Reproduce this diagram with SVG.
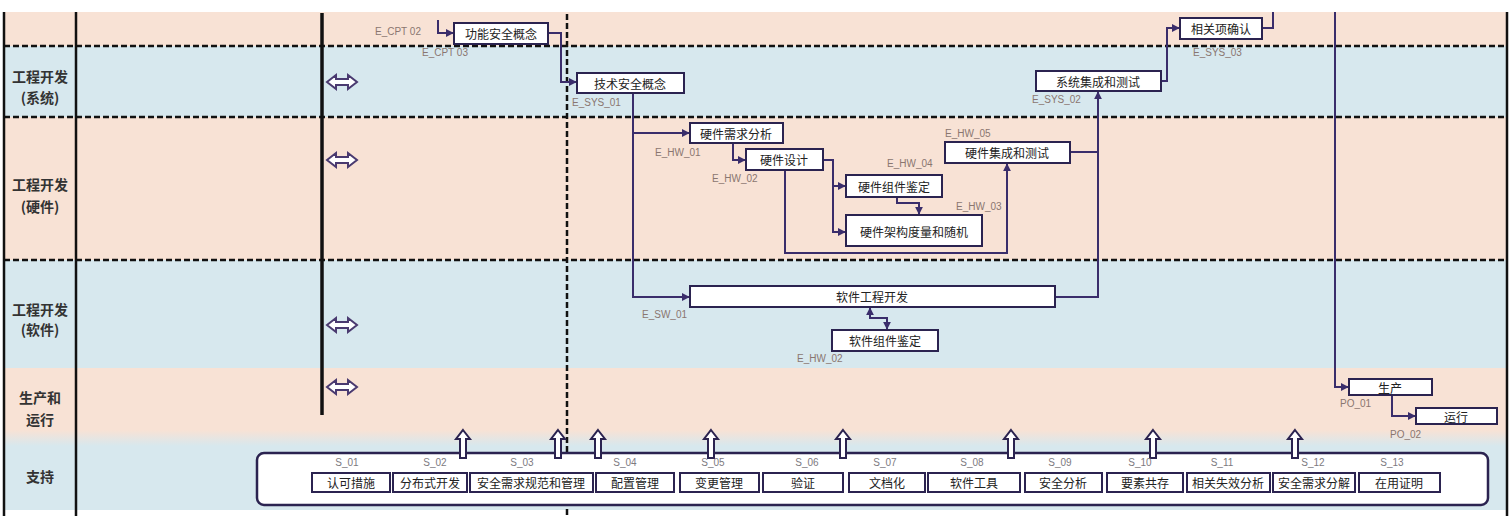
<svg xmlns="http://www.w3.org/2000/svg" width="1512" height="516" viewBox="0 0 1512 516">
<defs>
<style>
.peach{fill:#f8e2d5}
.blue{fill:#d7e8ee}
.border{stroke:#111;stroke-width:2.5;fill:none}
.dash{stroke:#111;stroke-width:2.5;stroke-dasharray:6 3;fill:none}
.box{fill:#fff;stroke:#2b2350;stroke-width:2}
.nt{font-family:"Noto Sans CJK SC","Noto Sans",sans-serif;font-size:12px;fill:#222;text-anchor:middle;dominant-baseline:central}
.lane{font-family:"Noto Sans CJK SC","Noto Sans",sans-serif;font-size:14px;font-weight:bold;fill:#333;text-anchor:middle}
.lbl{font-family:"Liberation Sans","Noto Sans",sans-serif;font-size:10px;fill:#8a7670}
.slbl{font-family:"Liberation Sans","Noto Sans",sans-serif;font-size:10px;fill:#7d7a80;text-anchor:middle}
.con{fill:none;stroke:#3a2d6b;stroke-width:2}
.dbl{fill:#fff;stroke:#4a3a70;stroke-width:2}
.up{fill:#fff;stroke:#2b2350;stroke-width:2}
</style>
<marker id="ah" viewBox="0 0 10 10" refX="9" refY="5" markerWidth="4" markerHeight="4" orient="auto-start-reverse">
<path d="M0,0 L10,5 L0,10 Z" fill="#3a2d6b"/>
</marker>
<linearGradient id="fade" x1="0" y1="0" x2="0" y2="1">
<stop offset="0" stop-color="#f8e2d5"/>
<stop offset="1" stop-color="#d7e8ee"/>
</linearGradient>
</defs>
<rect width="1512" height="516" fill="#ffffff"/>
<g id="lanes">
<rect class="peach" x="4" y="12" width="1503" height="34"/>
<rect class="blue" x="4" y="46" width="1503" height="71"/>
<rect class="peach" x="4" y="117" width="1503" height="143"/>
<rect class="blue" x="4" y="260" width="1503" height="108"/>
<rect class="peach" x="4" y="368" width="1503" height="62"/>
<rect x="4" y="430" width="1503" height="16" fill="url(#fade)"/>
<rect class="blue" x="4" y="446" width="1503" height="64"/>
<line class="dash" x1="4" y1="46" x2="1507" y2="46"/>
<line class="dash" x1="4" y1="117" x2="1507" y2="117"/>
<line class="dash" x1="4" y1="260" x2="1507" y2="260"/>
<line class="border" x1="4" y1="12" x2="4" y2="516"/>
<line class="border" x1="76" y1="12" x2="76" y2="516"/>
<line class="border" x1="1507" y1="12" x2="1507" y2="516"/>
<line x1="322" y1="13" x2="322" y2="415" stroke="#111" stroke-width="3.5"/>
<line class="dash" x1="567" y1="14" x2="567" y2="516"/>
<text class="lane" x="40" y="82">工程开发</text>
<text class="lane" x="40" y="103">(系统)</text>
<text class="lane" x="40" y="190">工程开发</text>
<text class="lane" x="40" y="212">(硬件)</text>
<text class="lane" x="40" y="315">工程开发</text>
<text class="lane" x="40" y="335">(软件)</text>
<text class="lane" x="40" y="403">生产和</text>
<text class="lane" x="40" y="425">运行</text>
<text class="lane" x="40" y="482">支持</text>
<path class="dbl" transform="translate(327,82)" d="M0,0 L9,-7 L9,-3 L21,-3 L21,-7 L30,0 L21,7 L21,3 L9,3 L9,7 Z"/>
<path class="dbl" transform="translate(327,160)" d="M0,0 L9,-7 L9,-3 L21,-3 L21,-7 L30,0 L21,7 L21,3 L9,3 L9,7 Z"/>
<path class="dbl" transform="translate(327,325)" d="M0,0 L9,-7 L9,-3 L21,-3 L21,-7 L30,0 L21,7 L21,3 L9,3 L9,7 Z"/>
<path class="dbl" transform="translate(327,387)" d="M0,0 L9,-7 L9,-3 L21,-3 L21,-7 L30,0 L21,7 L21,3 L9,3 L9,7 Z"/>
</g>
<g id="connectors">
<path class="con" d="M438,20 V33 H453" marker-end="url(#ah)"/>
<path class="con" d="M548,33 H561 V82 H576" marker-end="url(#ah)"/>
<path class="con" d="M633,93 V297 H689" marker-end="url(#ah)"/>
<path class="con" d="M633,133 H689" marker-end="url(#ah)"/>
<path class="con" d="M733,143 V160 H745" marker-end="url(#ah)"/>
<path class="con" d="M823,160 H833 V186 H845" marker-end="url(#ah)"/>
<path class="con" d="M833,186 V232 H845" marker-end="url(#ah)"/>
<path class="con" d="M897,197 V203 H919 V214" marker-end="url(#ah)"/>
<path class="con" d="M785,170 V253 H1007 V164" marker-end="url(#ah)"/>
<path class="con" d="M1070,152 H1098"/>
<path class="con" d="M1055,297 H1098 V92" marker-end="url(#ah)"/>
<path class="con" d="M1161,81 H1167 V28 H1179" marker-end="url(#ah)"/>
<path class="con" d="M1262,28 H1273 V12"/>
<path class="con" d="M1335,12 V387 H1348" marker-end="url(#ah)"/>
<path class="con" d="M1392,395 V416 H1415" marker-end="url(#ah)"/>
<path class="con" d="M887,329 V318 H870 V308" marker-start="url(#ah)" marker-end="url(#ah)"/>
</g>
<g id="n_cpt">
<rect class="box" x="454" y="23" width="94" height="21"/>
<text class="nt" x="501" y="33.5">功能安全概念</text>
<text class="lbl" x="375" y="35">E_CPT 02</text>
<text class="lbl" x="422" y="56">E_CPT 03</text>
</g>
<g id="n_tsc">
<rect class="box" x="577" y="73" width="107" height="20"/>
<text class="nt" x="630" y="83">技术安全概念</text>
<text class="lbl" x="572" y="106">E_SYS_01</text>
</g>
<g id="n_sys_int">
<rect class="box" x="1036" y="71" width="125" height="20"/>
<text class="nt" x="1098" y="81">系统集成和测试</text>
<text class="lbl" x="1032" y="103">E_SYS_02</text>
</g>
<g id="n_item_val">
<rect class="box" x="1180" y="18" width="82" height="21"/>
<text class="nt" x="1221" y="28.5">相关项确认</text>
<text class="lbl" x="1193" y="56">E_SYS_03</text>
</g>
<g id="n_hw_req">
<rect class="box" x="690" y="123" width="93" height="20"/>
<text class="nt" x="736" y="133">硬件需求分析</text>
<text class="lbl" x="655" y="156">E_HW_01</text>
</g>
<g id="n_hw_des">
<rect class="box" x="746" y="149" width="77" height="21"/>
<text class="nt" x="784" y="159.5">硬件设计</text>
<text class="lbl" x="712" y="182">E_HW_02</text>
</g>
<g id="n_hw_comp">
<rect class="box" x="846" y="175" width="96" height="22"/>
<text class="nt" x="894" y="186">硬件组件鉴定</text>
<text class="lbl" x="887" y="167">E_HW_04</text>
</g>
<g id="n_hw_arch">
<rect class="box" x="846" y="215" width="136" height="31"/>
<text class="nt" x="914" y="231">硬件架构度量和随机</text>
<text class="lbl" x="956" y="210">E_HW_03</text>
</g>
<g id="n_hw_int">
<rect class="box" x="945" y="142" width="125" height="21"/>
<text class="nt" x="1007" y="152.5">硬件集成和测试</text>
<text class="lbl" x="945" y="137">E_HW_05</text>
</g>
<g id="n_sw">
<rect class="box" x="690" y="286" width="365" height="21"/>
<text class="nt" x="872" y="296.5">软件工程开发</text>
<text class="lbl" x="642" y="318">E_SW_01</text>
</g>
<g id="n_sw_comp">
<rect class="box" x="832" y="330" width="106" height="21"/>
<text class="nt" x="885" y="340.5">软件组件鉴定</text>
<text class="lbl" x="797" y="362">E_HW_02</text>
</g>
<g id="n_prod">
<rect class="box" x="1349" y="379" width="83" height="16"/>
<text class="nt" x="1390" y="387">生产</text>
<text class="lbl" x="1340" y="407">PO_01</text>
</g>
<g id="n_oper">
<rect class="box" x="1416" y="408" width="81" height="16"/>
<text class="nt" x="1456" y="416">运行</text>
<text class="lbl" x="1390" y="438">PO_02</text>
</g>
<g id="support">
<rect x="257" y="453" width="1231" height="52" rx="7" fill="#fff" stroke="#2b2350" stroke-width="2.5"/>
<path class="up" transform="translate(463,444)" d="M0,-14 L7,-5 L3,-5 L3,14 L-3,14 L-3,-5 L-7,-5 Z"/>
<path class="up" transform="translate(558,444)" d="M0,-14 L7,-5 L3,-5 L3,14 L-3,14 L-3,-5 L-7,-5 Z"/>
<path class="up" transform="translate(598,444)" d="M0,-14 L7,-5 L3,-5 L3,14 L-3,14 L-3,-5 L-7,-5 Z"/>
<path class="up" transform="translate(711,444)" d="M0,-14 L7,-5 L3,-5 L3,14 L-3,14 L-3,-5 L-7,-5 Z"/>
<path class="up" transform="translate(843,444)" d="M0,-14 L7,-5 L3,-5 L3,14 L-3,14 L-3,-5 L-7,-5 Z"/>
<path class="up" transform="translate(1011,444)" d="M0,-14 L7,-5 L3,-5 L3,14 L-3,14 L-3,-5 L-7,-5 Z"/>
<path class="up" transform="translate(1153,444)" d="M0,-14 L7,-5 L3,-5 L3,14 L-3,14 L-3,-5 L-7,-5 Z"/>
<path class="up" transform="translate(1295,444)" d="M0,-14 L7,-5 L3,-5 L3,14 L-3,14 L-3,-5 L-7,-5 Z"/>
</g>
<g id="s01"><text class="slbl" x="347" y="466">S_01</text><rect class="box" x="312" y="473" width="78" height="19"/><text class="nt" x="351" y="482.5">认可措施</text></g>
<g id="s02"><text class="slbl" x="435" y="466">S_02</text><rect class="box" x="393" y="473" width="74" height="19"/><text class="nt" x="430" y="482.5">分布式开发</text></g>
<g id="s03"><text class="slbl" x="522" y="466">S_03</text><rect class="box" x="470" y="473" width="123" height="19"/><text class="nt" x="531" y="482.5">安全需求规范和管理</text></g>
<g id="s04"><text class="slbl" x="625" y="466">S_04</text><rect class="box" x="596" y="473" width="78" height="19"/><text class="nt" x="635" y="482.5">配置管理</text></g>
<g id="s05"><text class="slbl" x="713" y="466">S_05</text><rect class="box" x="680" y="473" width="79" height="19"/><text class="nt" x="719" y="482.5">变更管理</text></g>
<g id="s06"><text class="slbl" x="807" y="466">S_06</text><rect class="box" x="763" y="473" width="80" height="19"/><text class="nt" x="803" y="482.5">验证</text></g>
<g id="s07"><text class="slbl" x="885" y="466">S_07</text><rect class="box" x="849" y="473" width="76" height="19"/><text class="nt" x="887" y="482.5">文档化</text></g>
<g id="s08"><text class="slbl" x="972" y="466">S_08</text><rect class="box" x="928" y="473" width="92" height="19"/><text class="nt" x="974" y="482.5">软件工具</text></g>
<g id="s09"><text class="slbl" x="1060" y="466">S_09</text><rect class="box" x="1025" y="473" width="77" height="19"/><text class="nt" x="1063" y="482.5">安全分析</text></g>
<g id="s10"><text class="slbl" x="1140" y="466">S_10</text><rect class="box" x="1107" y="473" width="76" height="19"/><text class="nt" x="1145" y="482.5">要素共存</text></g>
<g id="s11"><text class="slbl" x="1222" y="466">S_11</text><rect class="box" x="1187" y="473" width="83" height="19"/><text class="nt" x="1228" y="482.5">相关失效分析</text></g>
<g id="s12"><text class="slbl" x="1313" y="466">S_12</text><rect class="box" x="1273" y="473" width="82" height="19"/><text class="nt" x="1314" y="482.5">安全需求分解</text></g>
<g id="s13"><text class="slbl" x="1392" y="466">S_13</text><rect class="box" x="1359" y="473" width="81" height="19"/><text class="nt" x="1399" y="482.5">在用证明</text></g>
</svg>
